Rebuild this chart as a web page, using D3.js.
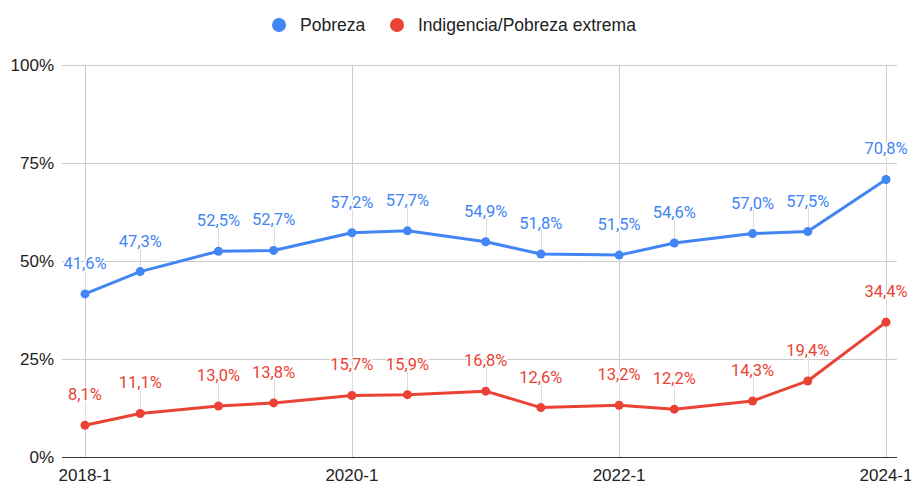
<!DOCTYPE html>
<html>
<head>
<meta charset="utf-8">
<script src="https://cdn.jsdelivr.net/npm/d3@7"></script>
<style>
  body { margin: 0; background: #fff; }
  svg { display: block; }
</style>
</head>
<body>
<div id="chart"></div>
<script>
var width = 911,
    height = 481;

// semesters and series values (percent)
var periods = ["2018-1", "2018-2", "2019-1", "2019-2", "2020-1", "2020-2", "2021-1",
               "2021-2", "2022-1", "2022-2", "2023-1", "2023-2", "2024-1"];
var pobreza = [41.6, 47.3, 52.5, 52.7, 57.2, 57.7, 54.9, 51.8, 51.5, 54.6, 57.0, 57.5, 70.8];
var indigencia = [8.1, 11.1, 13.0, 13.8, 15.7, 15.9, 16.8, 12.6, 13.2, 12.2, 14.3, 19.4, 34.4];

var seriesNames = ["Pobreza", "Indigencia/Pobreza extrema"];
var seriesColors = ["#4285f4", "#ea4335"];
var xTickLabels = ["2018-1", "2020-1", "2022-1", "2024-1"];
var yTicks = [0, 25, 50, 75, 100];

// "2018-1" -> 1 Jan 2018, "2018-2" -> 1 Jun 2018
function toDate(p) {
    var parts = p.split("-");
    return new Date(+parts[0], parts[1] === "1" ? 0 : 5, 1);
}

var x = d3.scaleTime()
    .domain([toDate("2018-1"), toDate("2024-1")])
    .range([85, 886]);

var y = d3.scaleLinear()
    .domain([0, 100])
    .range([457, 65]);

var fmt = d3.formatLocale({ decimal: ",", thousands: ".", grouping: [3], currency: ["", ""] }).format(".1f");

var svg = d3.select("#chart").append("svg")
    .attr("width", width)
    .attr("height", height);

// horizontal grid
svg.append("g").selectAll("line")
    .data(yTicks.filter(function (d) { return d > 0; }))
    .enter().append("line")
    .attr("x1", 62).attr("x2", 897)
    .attr("y1", function (d) { return y(d) + 0.5; })
    .attr("y2", function (d) { return y(d) + 0.5; })
    .attr("stroke", "#cccccc")
    .attr("stroke-width", 1);

// vertical grid
svg.append("g").selectAll("line")
    .data(xTickLabels)
    .enter().append("line")
    .attr("x1", function (d) { return Math.round(x(toDate(d))) + 0.5; })
    .attr("x2", function (d) { return Math.round(x(toDate(d))) + 0.5; })
    .attr("y1", y(100))
    .attr("y2", y(0))
    .attr("stroke", "#cccccc")
    .attr("stroke-width", 1);

// baseline
svg.append("line")
    .attr("x1", 62).attr("x2", 897)
    .attr("y1", y(0) + 0.5).attr("y2", y(0) + 0.5)
    .attr("stroke", "#333333")
    .attr("stroke-width", 1);

// y labels
svg.append("g").selectAll("text")
    .data(yTicks)
    .enter().append("text")
    .attr("x", 54)
    .attr("y", function (d) { return y(d); })
    .attr("dy", "0.36em")
    .attr("text-anchor", "end")
    .style("font-family", "Arial, 'Liberation Sans', sans-serif")
    .style("font-size", "17px")
    .attr("fill", "#222222")
    .text(function (d) { return d + "%"; });

// x labels
svg.append("g").selectAll("text")
    .data(xTickLabels)
    .enter().append("text")
    .attr("x", function (d) { return x(toDate(d)); })
    .attr("y", 481)
    .attr("text-anchor", "middle")
    .style("font-family", "Arial, 'Liberation Sans', sans-serif")
    .style("font-size", "17px")
    .attr("fill", "#222222")
    .text(function (d) { return d; });

var series = [pobreza, indigencia].map(function (vals, i) {
    return {
        name: seriesNames[i],
        color: seriesColors[i],
        points: vals.map(function (v, j) { return { date: toDate(periods[j]), value: v }; })
    };
});

var line = d3.line()
    .x(function (d) { return x(d.date); })
    .y(function (d) { return y(d.value); });

// annotation stems
series.forEach(function (s) {
    svg.append("g").selectAll("line")
        .data(s.points)
        .enter().append("line")
        .attr("x1", function (d) { return Math.round(x(d.date)) + 0.5; })
        .attr("x2", function (d) { return Math.round(x(d.date)) + 0.5; })
        .attr("y1", function (d) { return y(d.value); })
        .attr("y2", function (d) { return y(d.value) - 24; })
        .attr("stroke", "#dddddd")
        .attr("stroke-width", 1);
});

series.forEach(function (s) {
    var g = svg.append("g");
    g.append("path")
        .datum(s.points)
        .attr("d", line)
        .attr("fill", "none")
        .attr("stroke", s.color)
        .attr("stroke-width", 3)
        .attr("stroke-linejoin", "round");
    g.selectAll("circle")
        .data(s.points)
        .enter().append("circle")
        .attr("cx", function (d) { return x(d.date); })
        .attr("cy", function (d) { return y(d.value); })
        .attr("r", 4.5)
        .attr("fill", s.color);
});

// value labels
series.forEach(function (s) {
    svg.append("g").selectAll("text")
        .data(s.points)
        .enter().append("text")
        .attr("x", function (d) { return x(d.date); })
        .attr("y", function (d) { return y(d.value) - 25; })
        .attr("text-anchor", "middle")
        .style("font-family", "Roboto, sans-serif")
        .style("font-size", "16.5px")
        .style("paint-order", "stroke")
        .attr("stroke", "#ffffff")
        .attr("stroke-width", 3)
        .attr("fill", s.color)
        .text(function (d) { return fmt(d.value) + "%"; });
});

// legend
var legendX = [279, 397];
var legend = svg.append("g").selectAll("g")
    .data(series)
    .enter().append("g")
    .attr("transform", function (d, i) { return "translate(" + legendX[i] + ",25)"; });
legend.append("circle")
    .attr("r", 7)
    .attr("fill", function (d) { return d.color; });
legend.append("text")
    .attr("x", 21)
    .attr("dy", "0.36em")
    .style("font-family", "Arial, 'Liberation Sans', sans-serif")
    .style("font-size", "17.5px")
    .attr("fill", "#222222")
    .text(function (d) { return d.name; });
</script>
</body>
</html>
